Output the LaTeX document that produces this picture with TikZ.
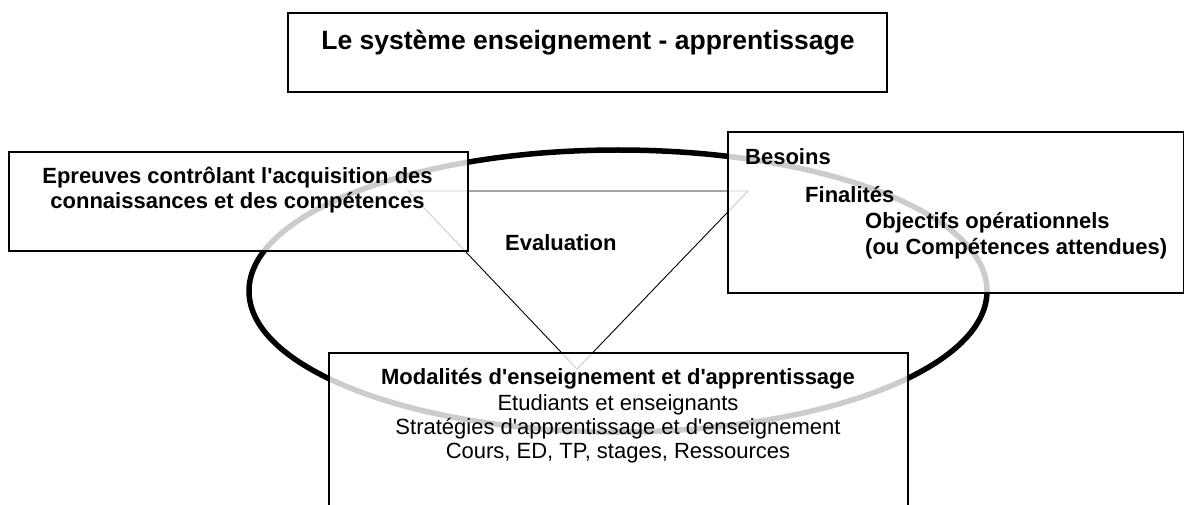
\documentclass[tikz,border=0pt]{standalone}
\usepackage{fontspec}
\setmainfont{Liberation Sans}
\newcommand{\sq}{\textquotesingle}
\begin{document}
\begin{tikzpicture}[x=1pt,y=-1pt,
  box/.style={draw=black, line width=1.6pt, fill=white, fill opacity=0.8, draw opacity=1, inner sep=0pt, anchor=north west},
  tri/.style={draw=black, line width=0.9pt},
  bt/.style={font=\bfseries\fontsize{22}{25}\selectfont, inner sep=0pt, anchor=base},
  rt/.style={font=\fontsize{22}{25}\selectfont, inner sep=0pt, anchor=base},
  ttl/.style={font=\bfseries\fontsize{26.5}{30}\selectfont, inner sep=0pt, anchor=base}]
\useasboundingbox (0,0) rectangle (1184,505);
% cycle ellipse
\draw[line width=5.5pt] (618,291) ellipse [x radius=369, y radius=141];
% evaluation triangle
\coordinate (ta) at (408,191);
\coordinate (tb) at (748,191);
\coordinate (tc) at (577,369);
\draw[tri] (ta) -- (tb) -- (tc) -- cycle;
% boxes
\node[box, minimum width=599pt, minimum height=79pt] (title) at (287,12) {};
\node[box, minimum width=459pt, minimum height=99pt] (epr) at (8,151) {};
\node[box, minimum width=456pt, minimum height=161pt] (bes) at (727,131) {};
\node[box, minimum width=579pt, minimum height=170pt] (mod) at (328,352) {};
% texts
\node[ttl] (tt) at (588,50) {Le système enseignement - apprentissage};
\node[bt] (e1) at (237.5,184) {Epreuves contrôlant l\sq acquisition des};
\node[bt] (e2) at (237.5,209) {connaissances et des compétences};
\node[bt, anchor=base west] (ev) at (505,251) {Evaluation};
\node[bt, anchor=base west] (b1) at (745,165) {Besoins};
\node[bt, anchor=base west] (b2) at (805,203) {Finalités};
\node[bt, anchor=base west] (b3) at (865,229) {Objectifs opérationnels};
\node[bt, anchor=base west] (b4) at (865,255) {(ou Compétences attendues)};
\node[bt] (m1) at (618,384) {Modalités d\sq enseignement et d\sq apprentissage};
\node[rt] (m2) at (618,410) {Etudiants et enseignants};
\node[rt] (m3) at (618,434) {Stratégies d\sq apprentissage et d\sq enseignement};
\node[rt] (m4) at (618,458) {Cours, ED, TP, stages, Ressources};
\end{tikzpicture}
\end{document}
